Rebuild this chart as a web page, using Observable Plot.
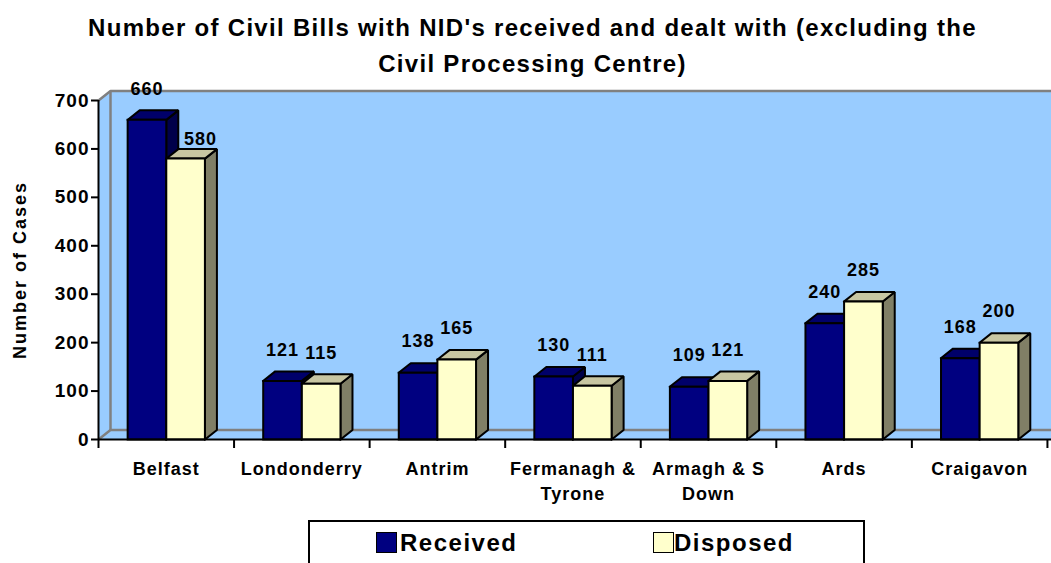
<!DOCTYPE html>
<html><head><meta charset="utf-8">
<script src="https://cdn.jsdelivr.net/npm/d3@7"></script>
<script src="https://cdn.jsdelivr.net/npm/@observablehq/plot@0.6"></script>
<style>
body{margin:0;background:#fff;font-family:"Liberation Sans",Arial,sans-serif;color:#000;}
#wrap{position:relative;width:1051px;height:563px;overflow:hidden;background:#fff;}
#title{position:absolute;left:7px;top:0;width:1051px;text-align:center;font-weight:bold;font-size:24px;letter-spacing:1.3px;line-height:36px;padding-top:10px;}
#chart{position:absolute;left:0;top:80px;}
#legend{position:absolute;left:308px;top:520px;width:553px;height:60px;border:2px solid #000;}
.sw{position:absolute;top:10px;width:19px;height:19px;border:1.5px solid #000;}
.lt{position:absolute;top:9px;font-size:24px;line-height:24px;font-weight:bold;letter-spacing:1.5px;}
</style>
</head><body>
<div id="wrap">
  <div id="title">Number of Civil Bills with NID's received and dealt with (excluding the<br>Civil Processing Centre)</div>
  <div id="chart"></div>
  <div id="legend"></div>
</div>
<script>
// ---- data ----
const categories = ["Belfast", "Londonderry", "Antrim", "Fermanagh &\nTyrone", "Armagh & S\nDown", "Ards", "Craigavon"];
const received = [660, 121, 138, 130, 109, 240, 168];
const disposed = [580, 115, 165, 111, 121, 285, 200];
const seriesNames = ["Received", "Disposed"];
const yTicks = [0, 100, 200, 300, 400, 500, 600, 700];

// ---- layout ----
const W = 1051, H = 430, mL = 98, mR = 0, mT = 20, mB = 71;
const yMax = 700, xMax = 7.03;
const xk = (W - mL - mR) / xMax, yk = (H - mT - mB) / yMax;
const DX = 12 / xk, DY = 9.5 / yk;       // 3-D depth in data units
const barStart = 0.215, barW = 0.285;

const colors = {
  Received: {front: "#000080", top: "#00006a", side: "#00004a"},
  Disposed: {front: "#FFFFCC", top: "#C8C6A2", side: "#807F66"}
};

function addPoly(arr, id, pts) { pts.forEach(([x, y]) => arr.push({id, x, y})); }

function boxFaces(values, s) {
  const front = [], top = [], side = [];
  values.forEach((v, i) => {
    const x1 = i + barStart + s * barW, x2 = x1 + barW;
    addPoly(front, i, [[x1, 0], [x2, 0], [x2, v], [x1, v], [x1, 0]]);
    addPoly(top, i, [[x1, v], [x2, v], [x2 + DX, v + DY], [x1 + DX, v + DY], [x1, v]]);
    addPoly(side, i, [[x2, 0], [x2 + DX, DY], [x2 + DX, v + DY], [x2, v], [x2, 0]]);
  });
  return {front, top, side};
}

const wall = [];
addPoly(wall, 0, [[0, 0], [0, yMax], [DX, yMax + DY], [xMax, yMax + DY], [xMax, 0], [0, 0]]);
const wallEdges = [];
addPoly(wallEdges, 0, [[0, yMax], [DX, yMax + DY], [xMax, yMax + DY]]);
addPoly(wallEdges, 1, [[DX, yMax + DY], [DX, DY]]);
addPoly(wallEdges, 2, [[0, 0], [DX, DY], [xMax, DY]]);

const faceMarks = [];
[received, disposed].forEach((vals, s) => {
  const f = boxFaces(vals, s), c = colors[seriesNames[s]];
  for (const k of ["side", "top", "front"]) {
    faceMarks.push(Plot.line(f[k], {x: "x", y: "y", z: "id", fill: c[k], stroke: "#000", strokeWidth: 2, strokeLinejoin: "miter", strokeLinecap: "square"}));
  }
});

// value labels; a Disposed label that would collide with a much taller Received box is nudged right/down
const collides = (s, i) => s === 1 && received[i] - disposed[i] > 60;
const labelMarks = [received, disposed].map((vals, s) =>
  Plot.text(vals, {
    x: (d, i) => i + barStart + s * barW + barW / 2 + (collides(s, i) ? 15 / xk : 0),
    y: (d, i) => d - (collides(s, i) ? 12 / yk : 0),
    text: d => String(d), dy: -31
  })
);

const chart = Plot.plot({
  width: W, height: H,
  marginLeft: mL, marginRight: mR, marginTop: mT, marginBottom: mB,
  x: {type: "linear", domain: [0, xMax], axis: null, label: null},
  y: {domain: [0, yMax], axis: null, label: null},
  style: {fontFamily: "'Liberation Sans', Arial, sans-serif", fontSize: "18px", fontWeight: "bold", letterSpacing: "1px", color: "#000", background: "transparent", overflow: "visible"},
  marks: [
    Plot.line(wall, {x: "x", y: "y", z: "id", fill: "#99CCFF", stroke: "none"}),
    Plot.line(wallEdges, {x: "x", y: "y", z: "id", stroke: "#808080", strokeWidth: 2.5, strokeLinecap: "butt", strokeLinejoin: "miter"}),
    ...faceMarks,
    Plot.ruleY([0], {x1: 0, x2: xMax, stroke: "#000", strokeWidth: 2}),
    Plot.ruleX([0], {y1: 0, y2: yMax, stroke: "#000", strokeWidth: 2}),
    Plot.axisY({ticks: yTicks, tickSize: 7, tickPadding: 2, strokeWidth: 2, fontSize: 19, label: null, tickFormat: d => String(d)}),
    Plot.axisX({ticks: d3.range(categories.length + 1), tickSize: 9, tickFormat: () => "", strokeWidth: 2, label: null}),
    Plot.axisX({ticks: categories.map((_, i) => i + 0.5), tickSize: 0, tickPadding: 18, lineHeight: 1.39, tickFormat: d => categories[Math.floor(d)], label: null}),
    ...labelMarks,
    Plot.text(["Number of Cases"], {frameAnchor: "left", textAnchor: "middle", rotate: -90, dx: -78, fontSize: 18})
  ]
});
d3.select(chart).selectAll("text").filter(function() { return this.textContent === "Number of Cases"; }).style("letter-spacing", "2px");
document.getElementById("chart").appendChild(chart);

// legend
const lg = document.getElementById("legend");
const lpos = [{sw: 66, tx: 90}, {sw: 343, tx: 364}];
seriesNames.forEach((n, i) => {
  const sw = document.createElement("div");
  sw.className = "sw"; sw.style.left = lpos[i].sw + "px"; sw.style.background = colors[n].front;
  const t = document.createElement("div");
  t.className = "lt"; t.style.left = lpos[i].tx + "px"; t.textContent = n;
  lg.appendChild(sw); lg.appendChild(t);
});
</script>
</body></html>
